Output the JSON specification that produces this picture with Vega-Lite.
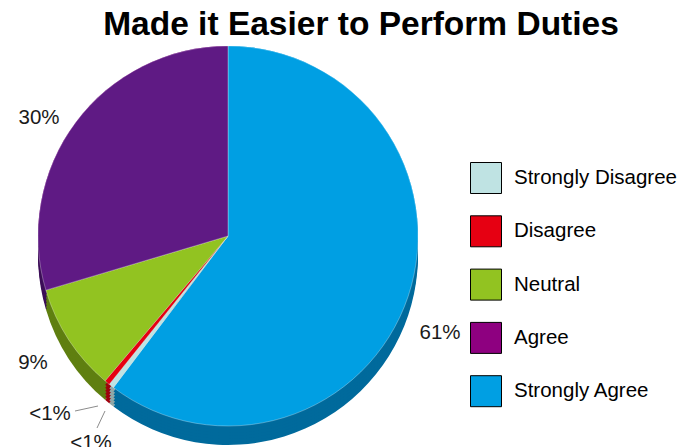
{
"$schema":"https://vega.github.io/schema/vega-lite/v6.json",
"width":690,"height":447,"padding":0,"autosize":{"type":"none"},
"background":"white",
"config":{"view":{"stroke":null},"font":"Liberation Sans"},
"title":{"text":"Made it Easier to Perform Duties","font":"Liberation Sans","fontSize":33.5,"fontWeight":"bold","color":"#000000","anchor":"middle","dx":16,"dy":46},
"datasets":{"shares":[
{"category":"Strongly Agree","share":60.3,"ord":1},
{"category":"Strongly Disagree","share":0.45,"ord":2},
{"category":"Disagree","share":0.45,"ord":3},
{"category":"Neutral","share":9.2,"ord":4},
{"category":"Agree","share":29.6,"ord":5}]},
"layer":[
{"data":{"name":"shares"},"mark":{"type":"arc","outerRadius":190},
"encoding":{"theta":{"field":"share","type":"quantitative","stack":true},"order":{"field":"ord"},
"x":{"datum":228,"type":"quantitative","scale":{"domain":[0,690],"range":[0,690],"nice":false},"axis":null},
"y":{"datum":236,"type":"quantitative","scale":{"domain":[0,447],"range":[0,447],"nice":false},"axis":null},
"color":{"field":"category","type":"nominal","scale":{"domain":["Strongly Disagree","Disagree","Neutral","Agree","Strongly Agree"],"range":["#bfe3e3","#e60012","#92c321","#8e0080","#009fe3"]},
"legend":{"orient":"none","legendX":470,"legendY":162,"title":null,"symbolType":"square","symbolSize":961,"symbolStrokeColor":"#000000","symbolStrokeWidth":1,"rowPadding":17.3,"labelFontSize":20.5,"labelFont":"Liberation Sans","labelColor":"#000000","labelOffset":12,"labelLimit":200,"symbolOpacity":1}}}},
{"data":{"name":"shares"},"layer":[
{"mark":{"type":"arc","outerRadius":190},"encoding":{"y":{"datum":255,"type":"quantitative"}}},
{"mark":{"type":"arc","outerRadius":190},"encoding":{"y":{"datum":252,"type":"quantitative"}}},
{"mark":{"type":"arc","outerRadius":190},"encoding":{"y":{"datum":249,"type":"quantitative"}}},
{"mark":{"type":"arc","outerRadius":190},"encoding":{"y":{"datum":246,"type":"quantitative"}}},
{"mark":{"type":"arc","outerRadius":190},"encoding":{"y":{"datum":243,"type":"quantitative"}}},
{"mark":{"type":"arc","outerRadius":190},"encoding":{"y":{"datum":240,"type":"quantitative"}}}
],
"encoding":{"theta":{"field":"share","type":"quantitative","stack":true},"order":{"field":"ord"},
"x":{"datum":228,"type":"quantitative"},
"color":{"field":"category","type":"nominal","scale":{"domain":["Strongly Disagree","Disagree","Neutral","Agree","Strongly Agree"],"range":["#8fa8a8","#a0000c","#5f7f10","#3d0f58","#006a9c"]},"legend":null}}},
{"data":{"name":"shares"},"mark":{"type":"arc","outerRadius":190,"stroke":"#ffffff","strokeWidth":0.5,"strokeOpacity":0.6},
"encoding":{"theta":{"field":"share","type":"quantitative","stack":true},"order":{"field":"ord"},
"x":{"datum":228,"type":"quantitative"},
"y":{"datum":236,"type":"quantitative"},
"color":{"field":"category","type":"nominal","scale":{"domain":["Strongly Disagree","Disagree","Neutral","Agree","Strongly Agree"],"range":["#bfe3e3","#e60012","#92c321","#5f1a84","#009fe3"]},"legend":null}}},
{"data":{"values":[{"leader":"Strongly Disagree"}]},"mark":{"type":"rule","color":"#8c8c8c","strokeWidth":1},
"encoding":{"x":{"datum":75,"type":"quantitative"},"x2":{"datum":98},"y":{"datum":411,"type":"quantitative"},"y2":{"datum":406}}},
{"data":{"values":[{"leader":"Disagree"}]},"mark":{"type":"rule","color":"#8c8c8c","strokeWidth":1},
"encoding":{"x":{"datum":97,"type":"quantitative"},"x2":{"datum":105},"y":{"datum":428,"type":"quantitative"},"y2":{"datum":411}}},
{"data":{"values":[{"label":"30%"}]},"mark":{"type":"text","fontSize":20.5,"font":"Liberation Sans","color":"#1a1a1a","baseline":"middle","align":"center"},
"encoding":{"text":{"field":"label"},"x":{"datum":39,"type":"quantitative"},"y":{"datum":118,"type":"quantitative"}}},
{"data":{"values":[{"label":"61%"}]},"mark":{"type":"text","fontSize":20.5,"font":"Liberation Sans","color":"#1a1a1a","baseline":"middle","align":"center"},
"encoding":{"text":{"field":"label"},"x":{"datum":440,"type":"quantitative"},"y":{"datum":333,"type":"quantitative"}}},
{"data":{"values":[{"label":"9%"}]},"mark":{"type":"text","fontSize":20.5,"font":"Liberation Sans","color":"#1a1a1a","baseline":"middle","align":"center"},
"encoding":{"text":{"field":"label"},"x":{"datum":33,"type":"quantitative"},"y":{"datum":363,"type":"quantitative"}}},
{"data":{"values":[{"label":"<1%"}]},"mark":{"type":"text","fontSize":20.5,"font":"Liberation Sans","color":"#1a1a1a","baseline":"middle","align":"center"},
"encoding":{"text":{"field":"label"},"x":{"datum":50,"type":"quantitative"},"y":{"datum":414,"type":"quantitative"}}},
{"data":{"values":[{"label":"<1%"}]},"mark":{"type":"text","fontSize":20.5,"font":"Liberation Sans","color":"#1a1a1a","baseline":"middle","align":"center"},
"encoding":{"text":{"field":"label"},"x":{"datum":91,"type":"quantitative"},"y":{"datum":443,"type":"quantitative"}}}
],
"resolve":{"scale":{"color":"independent"}}
}
